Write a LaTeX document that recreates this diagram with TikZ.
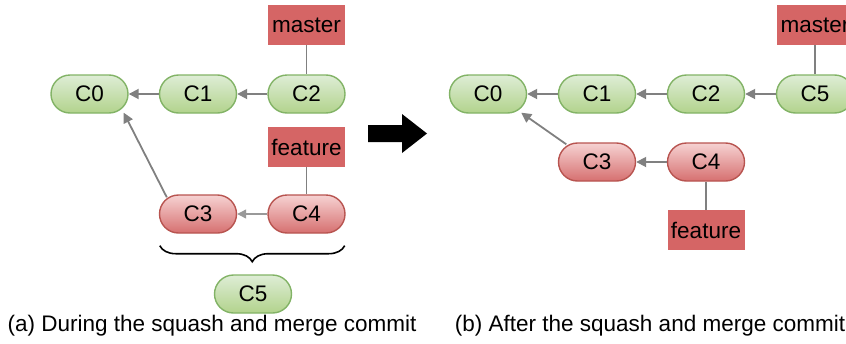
\documentclass[tikz,border=0pt]{standalone}
\usepackage{fontspec}
\setmainfont{Liberation Sans}
\usepackage{tikz}
\usepackage{xcolor}
\usetikzlibrary{arrows.meta,decorations.pathreplacing,calc}

\definecolor{gtop}{RGB}{222,237,214}
\definecolor{gbot}{RGB}{178,211,140}
\definecolor{gline}{RGB}{130,179,102}
\definecolor{rtop}{RGB}{246,210,210}
\definecolor{rbot}{RGB}{214,112,112}
\definecolor{rline}{RGB}{184,84,80}
\definecolor{refbox}{RGB}{213,101,101}
\definecolor{edge}{RGB}{128,128,128}

\begin{document}
\begin{tikzpicture}[x=1pt,y=-1pt,
    every node/.style={font=\fontsize{22.5}{26}\selectfont},
    commit/.style={rectangle,rounded corners=19pt,minimum width=77pt,minimum height=38pt,line width=1.4pt,inner sep=0pt},
    good/.style={commit,draw=gline,top color=gtop,bottom color=gbot},
    bad/.style={commit,draw=rline,top color=rtop,bottom color=rbot},
    ref/.style={rectangle,fill=refbox,minimum width=77pt,minimum height=40pt,inner sep=0pt},
    parent/.style={draw=edge,line width=1.8pt,-{Triangle[length=10pt,width=10pt]}},
    thinparent/.style={draw=edge!80,line width=1.1pt,-{Triangle[length=9pt,width=9pt]}},
    tie/.style={draw=edge,line width=1.8pt}]
      \useasboundingbox (0,0) rectangle (846,343);
      % (a) during
      \node [good] (a0) at (89.5,94) {C0};
      \node [good] (a1) at (198,94) {C1};
      \node [good] (a2) at (306.5,94) {C2};
      \node [ref] (amaster) at (306.5,25) {master};
      \node [ref] (afeature) at (306.5,147) {feature};
      \node [bad] (a3) at (198,214) {C3};
      \node [bad] (a4) at (306.5,214) {C4};
      \node [good] (a5) at (253,294) {C5};
      \coordinate (a3t) at ($(a3.north west)+(8,3)$);
      \coordinate (a0b) at ($(a0.south east)+(-5,-1)$);
      \coordinate (bl) at ($(a3.south west)+(1,12)$);
      \coordinate (br) at ($(a4.south east)+(-1,12)$);
      \draw [parent] (a1) -- (a0);
      \draw [parent] (a2) -- (a1);
      \draw [thinparent] (a4) -- (a3);
      \draw [parent] (a3t) -- (a0b);
      \draw [tie] (amaster) -- (a2);
      \draw [tie] (afeature) -- (a4);
      \draw [line width=1.6pt,decorate,decoration={brace,mirror,amplitude=16pt}] (bl) -- (br);
      \node (capa) at (212,326) {(a) During the squash and merge commit};
      % arrow between
      \fill (368,125) -- (402,125) -- (402,114) -- (427,133.5) -- (402,153) -- (402,142) -- (368,142) -- cycle;
      % (b) after
      \node [good] (b0) at (488,94) {C0};
      \node [good] (b1) at (597,94) {C1};
      \node [good] (b2) at (706,94) {C2};
      \node [good] (b5) at (815,94) {C5};
      \node [ref] (bmaster) at (815,25) {master};
      \node [bad] (b3) at (597,162) {C3};
      \node [bad] (b4) at (706,162) {C4};
      \node [ref] (bfeature) at (706,230) {feature};
      \coordinate (b3t) at ($(b3.north west)+(8.5,2)$);
      \coordinate (b0b) at ($(b0.south east)+(-6,-1)$);
      \draw [parent] (b1) -- (b0);
      \draw [parent] (b2) -- (b1);
      \draw [parent] (b5) -- (b2);
      \draw [parent] (b4) -- (b3);
      \draw [parent] (b3t) -- (b0b);
      \draw [tie] (bmaster) -- (b5);
      \draw [tie] (b4) -- (bfeature);
      \node (capb) at (650,326) {(b) After the squash and merge commit};
\end{tikzpicture}
\end{document}
